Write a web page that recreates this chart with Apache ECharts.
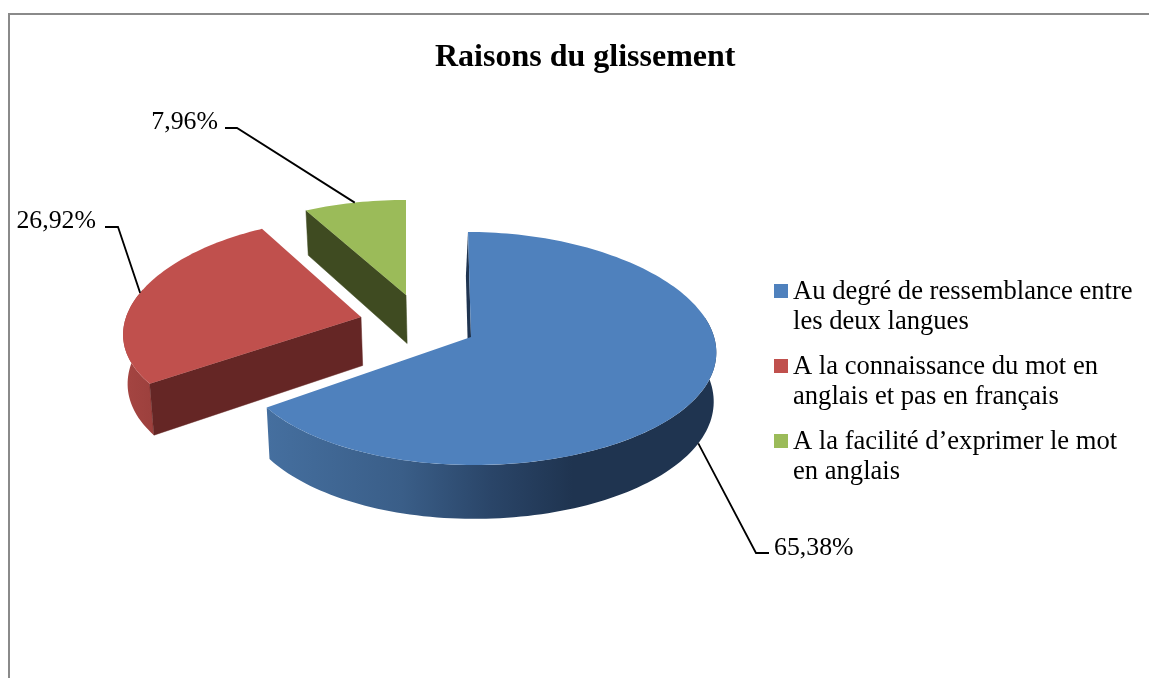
<!DOCTYPE html>
<html><head><meta charset="utf-8">
<style>html,body{margin:0;padding:0;background:#fff}#c{width:1149px;height:678px}</style>
<script src="https://cdn.jsdelivr.net/npm/echarts@6/dist/echarts.min.js"></script>
</head><body><div id="c"></div>
<script>
const chartTitle = 'Raisons du glissement';
const categories = [
  'Au degré de ressemblance entre\nles deux langues',
  'A la connaissance du mot en\nanglais et pas en français',
  'A la facilité d’exprimer le mot\nen anglais'
];
const percentages = [65.38, 26.92, 7.96];
const topColors = ['#4F81BD', '#C0504D', '#9BBB59'];
const faceColors = ['#1F3450', '#652625', '#3F4B21'];
const FONT = '"Liberation Serif","Times New Roman",serif';

// projection layout of the exploded 3D pie
const sliceLayout = [
  {ax: 471, ay: 337, sx: 0.997, xk: 0.026, sy: 1,     skew: 3, innerShift: -2.5, elbow: [756, 553], end: [769, 553], text: [774, 548, 'left']},
  {ax: 361, ay: 317, sx: 1.003, xk: 0.06,  sy: 0.945, skew: 0, innerShift: 0,    elbow: [118, 227], end: [105, 227], text: [96, 221, 'right']},
  {ax: 406, ay: 295, sx: 1,     xk: 0.045, sy: 0.905, skew: 0, innerShift: 0,    elbow: [237, 128], end: [225, 128], text: [218, 122, 'right']}
];
const RX = 239, RX_D = 4.8, RY = 115.4, K = 0.0987, H = 48.5, VX = 500, VC = 0.012;
const wallFills = [
  {type:'linear',x:0,y:0,x2:1,y2:0,colorStops:[{offset:0,color:'#456F9F'},{offset:.3,color:'#3A5E88'},{offset:.5,color:'#2A4568'},{offset:.68,color:'#1F3450'},{offset:1,color:'#1F3450'}]},
  {type:'linear',x:0,y:0,x2:1,y2:0,colorStops:[{offset:0,color:'#A54542'},{offset:1,color:'#9C403D'}]},
  '#3F4B21'
];

function topPoint(L, deg) {
  const t = deg * Math.PI / 180, sin = Math.sin(t), Z = -Math.cos(t), s = 1 / (1 - K * Z);
  return {x: L.ax + (RX + RX_D * sin) * sin * s * L.sx * (1 + L.xk * Z) + L.skew * Z, y: L.ay + RY * Z * s * L.sy, s};
}
function lower(p) { return [p.x + (VX - p.x) * VC, p.y + H * p.s]; }

function renderSlice(params, api) {
  const i = params.seriesIndex, L = sliceLayout[i], v = api.value(0);
  const total = percentages.reduce((a, b) => a + b, 0);
  const before = percentages.slice(0, i).reduce((a, b) => a + b, 0);
  const a0 = before / total * 360, a1 = (before + v) / total * 360, mid = (a0 + a1) / 2;
  const apex = {x: L.ax, y: L.ay, s: 1};
  const rim = [];
  for (let d = a0; d < a1; d += 1.5) rim.push(topPoint(L, d));
  rim.push(topPoint(L, a1));
  const top = [[apex.x, apex.y]].concat(rim.map(p => [p.x, p.y]));

  const children = [];
  // outer wall, only the part turned to the viewer
  const w0 = Math.max(a0, 80), w1 = Math.min(a1, 285);
  if (w1 > w0) {
    const up = [], down = [];
    for (let d = w0; d < w1; d += 1.5) { const p = topPoint(L, d); up.push([p.x, p.y]); down.unshift(lower(p)); }
    const pe = topPoint(L, w1); up.push([pe.x, pe.y]); down.unshift(lower(pe));
    children.push({type: 'polygon', shape: {points: up.concat(down)}, style: {fill: wallFills[i]}});
  }
  // inner face below the first straight edge
  const rs = rim[0], ls = lower(rs), la = lower(apex);
  children.push({type: 'polygon', shape: {points: [[apex.x, apex.y], [rs.x, rs.y], [ls[0] + L.innerShift, ls[1]], [la[0] + L.innerShift, la[1]]]}, style: {fill: faceColors[i], stroke: L.innerShift ? 'none' : faceColors[i], lineWidth: 0.5}});
  // top face
  children.push({type: 'polygon', shape: {points: top}, style: {fill: topColors[i]}});
  // leader line and value label
  const m = topPoint(L, mid), anchor = (-Math.cos(mid * Math.PI / 180)) > 0 ? lower(m) : [m.x, m.y];
  children.push({type: 'polyline', shape: {points: [anchor, L.elbow, L.end]}, style: {fill: 'none', stroke: '#000', lineWidth: 1.8}});
  children.push({type: 'text', style: {x: L.text[0], y: L.text[1], text: v.toFixed(2).replace('.', ',') + '%', align: L.text[2], verticalAlign: 'middle', font: '25.8px ' + FONT, fill: '#000'}});
  return {type: 'group', children};
}

const legendLine = {fontFamily: FONT, fontSize: 26.6, lineHeight: 30, color: '#000'};
const option = {
  animation: false,
  backgroundColor: '#fff',
  title: {text: chartTitle, left: 435, top: 40, textStyle: {fontFamily: FONT, fontWeight: 'bold', fontSize: 32, color: '#000', lineHeight: 36}, padding: 0},
  legend: {
    orient: 'vertical', left: 774, top: 244.5, padding: 0, itemWidth: 14, itemHeight: 14, itemGap: -16.5,
    icon: 'rect', data: categories, selectedMode: false,
    formatter: n => '{g| }\n' + n.split('\n').map(l => '{t|' + l + '}').join('\n'),
    textStyle: {fontFamily: FONT, fontSize: 26.6, color: '#000', rich: {t: legendLine, g: {fontSize: 10, height: 33, lineHeight: 33}}}
  },
  graphic: [{type: 'polyline', shape: {points: [[9, 678], [9, 14], [1149, 14]]}, style: {fill: 'none', stroke: '#8A8A8A', lineWidth: 2}, silent: true}],
  series: categories.map((name, i) => ({
    type: 'custom', name, coordinateSystem: 'none', renderItem: renderSlice,
    itemStyle: {color: topColors[i]}, data: [[percentages[i]]], silent: true
  }))
};
echarts.init(document.getElementById('c'), null, {renderer: 'canvas'}).setOption(option);
</script></body></html>
